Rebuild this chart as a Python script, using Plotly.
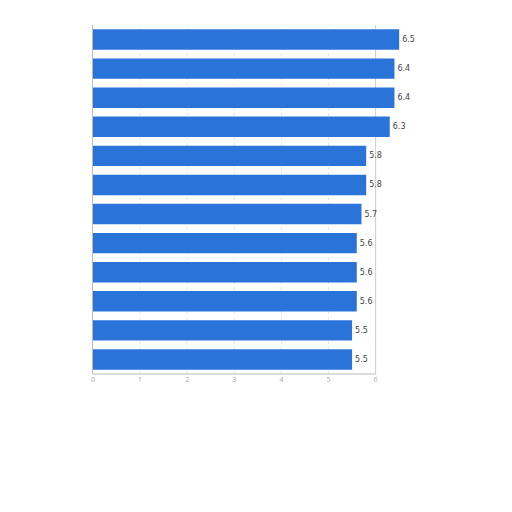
import plotly.graph_objects as go

categories = ["R1", "R2", "R3", "R4", "R5", "R6", "R7", "R8", "R9", "R10", "R11", "R12"]
values = [6.5, 6.4, 6.4, 6.3, 5.8, 5.8, 5.7, 5.6, 5.6, 5.6, 5.5, 5.5]
tick_values = [0, 1, 2, 3, 4, 5, 6]
axis_max = 6

fig = go.Figure(go.Bar(
    y=categories,
    x=values,
    orientation="h",
    marker=dict(color="#2a74d9", line=dict(width=0)),
    text=[f"{v:.1f}" for v in values],
    textposition="outside",
    textfont=dict(size=8, color="#444444", family="DejaVu Sans"),
    cliponaxis=False,
    width=0.7,
))

fig.update_layout(
    width=512, height=512,
    margin=dict(l=85, r=102, t=17, b=146),
    paper_bgcolor="white", plot_bgcolor="white",
    showlegend=False,
    xaxis=dict(range=[0, 6.9], tickvals=tick_values, showgrid=False,
               zeroline=False, showline=False,
               tickfont=dict(size=7, color="#aaaaaa")),
    yaxis=dict(autorange="reversed", showticklabels=False, showgrid=False,
               showline=True, linecolor="#bbbbbb", linewidth=1, ticks=""),
)
for t in tick_values[1:-1]:
    fig.add_shape(type="line", xref="x", yref="paper", x0=t, x1=t, y0=0, y1=1,
                  line=dict(color="#e6e6e6", width=1, dash="dot"), layer="below")
fig.add_shape(type="line", xref="x", yref="paper", x0=axis_max, x1=axis_max, y0=0, y1=1,
              line=dict(color="#cccccc", width=1), layer="below")
fig.add_shape(type="line", xref="x", yref="paper", x0=0, x1=axis_max, y0=0, y1=0,
              line=dict(color="#bbbbbb", width=1))

fig.write_html("out.html")
